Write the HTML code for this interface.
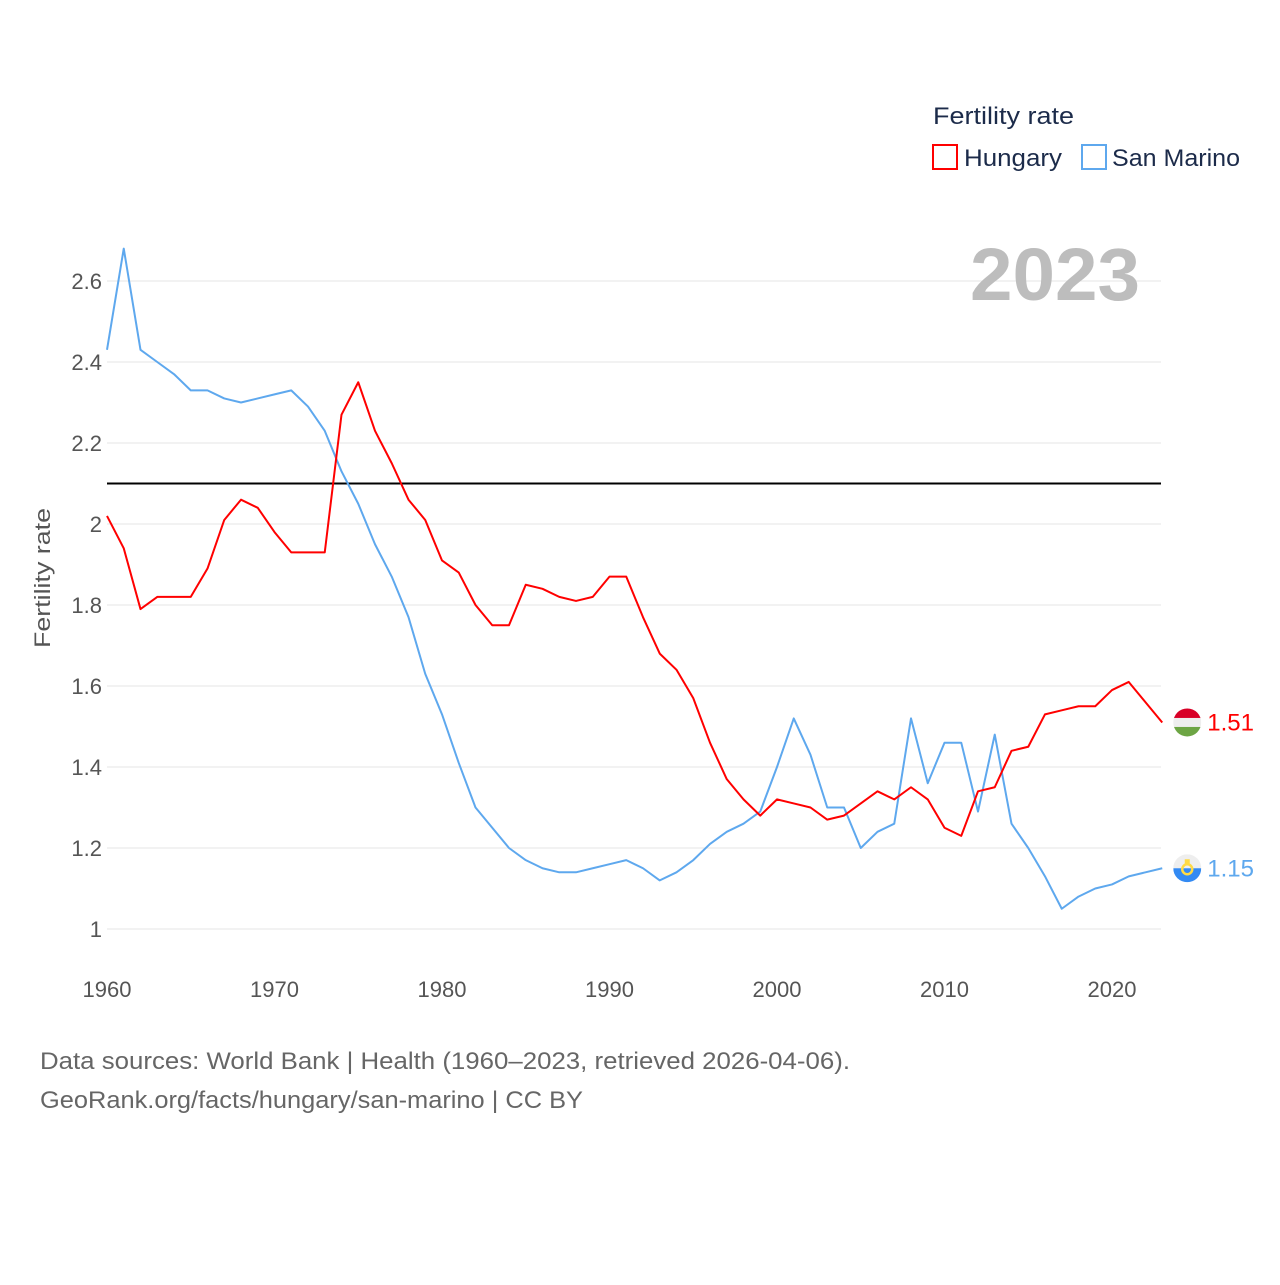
<!DOCTYPE html>
<html><head><meta charset="utf-8"><style>
body{margin:0;background:#fff;font-family:"Liberation Sans",sans-serif}
svg text{font-family:"Liberation Sans",sans-serif}
</style></head><body>
<svg id="chart" width="1280" height="1280" xmlns="http://www.w3.org/2000/svg">
<g id="grid"></g>
<g id="axes"></g>
<text x="1140" y="300" text-anchor="end" font-size="74" font-weight="bold" fill="#bdbdbd" textLength="170" lengthAdjust="spacingAndGlyphs">2023</text>
<line id="ref" x1="107" x2="1161" stroke="#000" stroke-width="2"/>
<g id="series"></g>
<text transform="translate(50,578) rotate(-90)" text-anchor="middle" font-size="22" fill="#555" textLength="140" lengthAdjust="spacingAndGlyphs">Fertility rate</text>
<g>
<text x="933" y="124" font-size="24" fill="#1c2b4a" textLength="141" lengthAdjust="spacingAndGlyphs">Fertility rate</text>
<rect x="933" y="145" width="24" height="24" fill="none" stroke="#ff0000" stroke-width="2"/>
<text x="964" y="166" font-size="24" fill="#1c2b4a" textLength="98" lengthAdjust="spacingAndGlyphs">Hungary</text>
<rect x="1082" y="145" width="24" height="24" fill="none" stroke="#5ea8ee" stroke-width="2"/>
<text x="1112" y="166" font-size="24" fill="#1c2b4a" textLength="128" lengthAdjust="spacingAndGlyphs">San Marino</text>
</g>
<text x="40" y="1069" font-size="24" fill="#666" textLength="810" lengthAdjust="spacingAndGlyphs">Data sources: World Bank | Health (1960–2023, retrieved 2026-04-06).</text>
<text x="40" y="1108" font-size="24" fill="#666" textLength="543" lengthAdjust="spacingAndGlyphs">GeoRank.org/facts/hungary/san-marino | CC BY</text>
</svg>
<script>
const years=[];for(let y=1960;y<=2023;y++)years.push(y);
const hungary=[2.02,1.94,1.79,1.82,1.82,1.82,1.89,2.01,2.06,2.04,1.98,1.93,1.93,1.93,2.27,2.35,2.23,2.15,2.06,2.01,1.91,1.88,1.80,1.75,1.75,1.85,1.84,1.82,1.81,1.82,1.87,1.87,1.77,1.68,1.64,1.57,1.46,1.37,1.32,1.28,1.32,1.31,1.30,1.27,1.28,1.31,1.34,1.32,1.35,1.32,1.25,1.23,1.34,1.35,1.44,1.45,1.53,1.54,1.55,1.55,1.59,1.61,1.56,1.51];
const sanMarino=[2.43,2.68,2.43,2.40,2.37,2.33,2.33,2.31,2.30,2.31,2.32,2.33,2.29,2.23,2.13,2.05,1.95,1.87,1.77,1.63,1.53,1.41,1.30,1.25,1.20,1.17,1.15,1.14,1.14,1.15,1.16,1.17,1.15,1.12,1.14,1.17,1.21,1.24,1.26,1.29,1.40,1.52,1.43,1.30,1.30,1.20,1.24,1.26,1.52,1.36,1.46,1.46,1.29,1.48,1.26,1.20,1.13,1.05,1.08,1.10,1.11,1.13,1.14,1.15];
const yTicks=[1,1.2,1.4,1.6,1.8,2,2.2,2.4,2.6];
const yTickLabels=["1","1.2","1.4","1.6","1.8","2","2.2","2.4","2.6"];
const xTicks=[1960,1970,1980,1990,2000,2010,2020];
const refValue=2.1;
const NS="http://www.w3.org/2000/svg";
const X=y=>107+(y-1960)*(1112-107)/60;
const Y=v=>929-(v-1)*405;
function mk(t,a,p){const e=document.createElementNS(NS,t);for(const k in a)e.setAttribute(k,a[k]);p.appendChild(e);return e;}
const grid=document.getElementById('grid'),axes=document.getElementById('axes'),ser=document.getElementById('series');
yTicks.forEach((v,i)=>{
 const l=mk('line',{x1:107,x2:1161,y1:Y(v),y2:Y(v),stroke:'#e6e6e6','stroke-width':1},grid);
 
 
 const t=mk('text',{x:102,y:Y(v)+8,'text-anchor':'end','font-size':22,fill:'#555'},axes);
 t.textContent=yTickLabels[i];
 
 
});
xTicks.forEach(y=>{
 const t=mk('text',{x:X(y),y:997,'text-anchor':'middle','font-size':22,fill:'#555'},axes);
 t.textContent=y;
 
 
});
const ref=document.getElementById('ref');ref.setAttribute('y1',Y(refValue));ref.setAttribute('y2',Y(refValue));
function line(data,color,name){
 const p=mk('polyline',{points:data.map((v,i)=>X(years[i])+','+Y(v)).join(' '),fill:'none',stroke:color,'stroke-width':2,'stroke-linejoin':'round'},ser);
 
 
}
line(sanMarino,'#5ea8ee','san-marino-line');
line(hungary,'#ff0000','hungary-line');
const hx=X(2023)+25;
const hv=hungary[hungary.length-1],hy=Y(hv);
const gH=mk('g',{},ser);


mk('clipPath',{id:'ch'},gH).appendChild(document.createElementNS(NS,'circle')).setAttribute('r',14);
document.querySelector('#ch circle').setAttribute('cx',hx);document.querySelector('#ch circle').setAttribute('cy',hy);
mk('rect',{x:hx-14,y:hy-14,width:28,height:10,fill:'#d80027','clip-path':'url(#ch)'},gH);
mk('rect',{x:hx-14,y:hy-4.5,width:28,height:9,fill:'#eeeeee','clip-path':'url(#ch)'},gH);
mk('rect',{x:hx-14,y:hy+4.5,width:28,height:10,fill:'#6da544','clip-path':'url(#ch)'},gH);
const th=mk('text',{x:hx+20,y:hy+8,'font-size':24,fill:'#ff0000'},ser);th.textContent=hv.toFixed(2);


const sv=sanMarino[sanMarino.length-1],sy=Y(sv);
const gS=mk('g',{},ser);


mk('clipPath',{id:'cs'},gS).appendChild(document.createElementNS(NS,'circle')).setAttribute('r',14);
document.querySelector('#cs circle').setAttribute('cx',hx);document.querySelector('#cs circle').setAttribute('cy',sy);
mk('rect',{x:hx-14,y:sy-14,width:28,height:14,fill:'#eeeeee','clip-path':'url(#cs)'},gS);
mk('rect',{x:hx-14,y:sy,width:28,height:14,fill:'#338af3','clip-path':'url(#cs)'},gS);
mk('circle',{cx:hx,cy:sy+1,r:5,fill:'none',stroke:'#ffda44','stroke-width':2.5},gS);
mk('rect',{x:hx-2.5,y:sy-9,width:5,height:5,fill:'#ffda44'},gS);
const ts=mk('text',{x:hx+20,y:sy+8,'font-size':24,fill:'#5ea8ee'},ser);ts.textContent=sv.toFixed(2);


</script>
</body></html>
